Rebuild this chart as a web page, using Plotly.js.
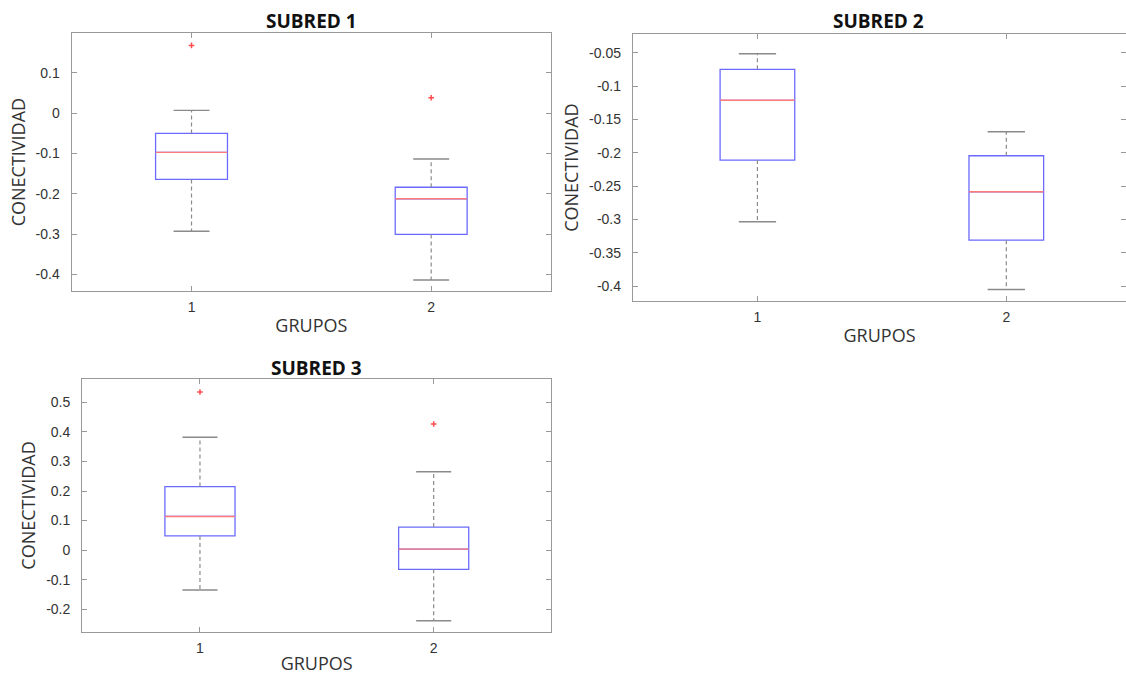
<!DOCTYPE html>
<html>
<head>
<meta charset="utf-8">
<script src="https://cdn.plot.ly/plotly-3.0.1.min.js"></script>
<style>html,body{margin:0;padding:0;background:#fff;}#chart{width:1126px;height:675px;}</style>
</head>
<body>
<div id="chart"></div>
<script>
// ---- data ----
const groups = [1, 2];
const groupLabels = ['1', '2'];

// SUBRED 1
const s1Lower  = [-0.293, -0.414];
const s1Q1     = [-0.1645, -0.301];
const s1Median = [-0.0975, -0.2125];
const s1Q3     = [-0.0504, -0.184];
const s1Upper  = [0.0067, -0.114];
const s1Outliers = [[0.168], [0.038]];
const s1TickVals = [-0.4, -0.3, -0.2, -0.1, 0, 0.1];
const s1TickText = ['-0.4', '-0.3', '-0.2', '-0.1', '0', '0.1'];

// SUBRED 2
const s2Lower  = [-0.3035, -0.405];
const s2Q1     = [-0.211, -0.331];
const s2Median = [-0.1214, -0.2585];
const s2Q3     = [-0.0749, -0.2045];
const s2Upper  = [-0.0515, -0.1685];
const s2Outliers = [[], []];
const s2TickVals = [-0.4, -0.35, -0.3, -0.25, -0.2, -0.15, -0.1, -0.05];
const s2TickText = ['-0.4', '-0.35', '-0.3', '-0.25', '-0.2', '-0.15', '-0.1', '-0.05'];

// SUBRED 3
const s3Lower  = [-0.135, -0.239];
const s3Q1     = [0.048, -0.065];
const s3Median = [0.114, 0.0034];
const s3Q3     = [0.215, 0.078];
const s3Upper  = [0.382, 0.265];
const s3Outliers = [[0.535], [0.427]];
const s3TickVals = [-0.2, -0.1, 0, 0.1, 0.2, 0.3, 0.4, 0.5];
const s3TickText = ['-0.2', '-0.1', '0', '0.1', '0.2', '0.3', '0.4', '0.5'];

const titles = ['SUBRED 1', 'SUBRED 2', 'SUBRED 3'];
const xTitle = 'GRUPOS';
const yTitle = 'CONECTIVIDAD';

// ---- styles ----
const BOX_W = 0.3;
const CAP_HALF = 0.075;
const BLUE = '#6a6aff';
const RED = '#ff7b7b';
const GRAY = '#8a8a8a';

function buildTraces(lower, q1, med, q3, upper, outliers, xa, ya) {
  const traces = [];
  traces.push({
    type: 'box', x: groups, q1: q1, median: med, q3: q3,
    lowerfence: q1, upperfence: q3, width: BOX_W, whiskerwidth: 0,
    boxpoints: false, fillcolor: 'rgba(0,0,0,0)',
    line: {color: BLUE, width: 1.3}, xaxis: xa, yaxis: ya, hoverinfo: 'skip'
  });
  const wx = [], wy = [];
  groups.forEach((g, i) => {
    wx.push(g, g, null, g, g, null);
    wy.push(q3[i], upper[i], null, q1[i], lower[i], null);
  });
  traces.push({type: 'scatter', mode: 'lines', x: wx, y: wy, xaxis: xa, yaxis: ya,
    line: {color: GRAY, width: 1.2, dash: '4px,3px'}, hoverinfo: 'skip'});
  const cx = [], cy = [];
  groups.forEach((g, i) => {
    cx.push(g - CAP_HALF, g + CAP_HALF, null, g - CAP_HALF, g + CAP_HALF, null);
    cy.push(upper[i], upper[i], null, lower[i], lower[i], null);
  });
  traces.push({type: 'scatter', mode: 'lines', x: cx, y: cy, xaxis: xa, yaxis: ya,
    line: {color: GRAY, width: 1.4}, hoverinfo: 'skip'});
  const mx = [], my = [];
  groups.forEach((g, i) => {
    mx.push(g - BOX_W / 2, g + BOX_W / 2, null);
    my.push(med[i], med[i], null);
  });
  traces.push({type: 'scatter', mode: 'lines', x: mx, y: my, xaxis: xa, yaxis: ya,
    line: {color: RED, width: 1.4}, hoverinfo: 'skip'});
  const ox = [], oy = [];
  groups.forEach((g, i) => { outliers[i].forEach(v => { ox.push(g); oy.push(v); }); });
  traces.push({type: 'scatter', mode: 'markers', x: ox, y: oy, xaxis: xa, yaxis: ya,
    marker: {symbol: 'cross-thin', size: 4, color: '#ff4d4d', line: {color: '#ff4d4d', width: 1.5}}, hoverinfo: 'skip'});
  return traces;
}

const data = [].concat(
  buildTraces(s1Lower, s1Q1, s1Median, s1Q3, s1Upper, s1Outliers, 'x', 'y'),
  buildTraces(s2Lower, s2Q1, s2Median, s2Q3, s2Upper, s2Outliers, 'x2', 'y2'),
  buildTraces(s3Lower, s3Q1, s3Median, s3Q3, s3Upper, s3Outliers, 'x3', 'y3')
);

const tickFont = {family: 'Liberation Sans, Arial, sans-serif', size: 14, color: '#333'};
const labFont = {family: 'Open Sans, sans-serif', size: 18, color: '#333'};
const titleFont = {family: 'Open Sans, sans-serif', size: 19, color: '#111'};

function xAxis(domain, range, anchor) {
  return {domain: domain, range: range, anchor: anchor, tickvals: groups, ticktext: groupLabels,
    ticks: 'inside', ticklen: 5, tickcolor: '#999', showline: true, linecolor: '#999', linewidth: 1.2,
    mirror: 'ticks', showgrid: false, zeroline: false, tickfont: tickFont, ticklabelstandoff: 3,
    title: {text: xTitle, font: labFont, standoff: 5}, fixedrange: true};
}
function yAxis(domain, range, anchor, tv, tt) {
  return {domain: domain, range: range, anchor: anchor, tickvals: tv, ticktext: tt,
    ticks: 'inside', ticklen: 5, tickcolor: '#999', showline: true, linecolor: '#999', linewidth: 1.2,
    mirror: 'ticks', showgrid: false, zeroline: false, tickfont: tickFont, ticklabelstandoff: 8,
    title: {text: yTitle, font: labFont, standoff: 5}, fixedrange: true};
}

const W = 1126, H = 675;
const layout = {
  width: W, height: H, margin: {l: 0, r: 0, t: 0, b: 0},
  paper_bgcolor: '#fff', plot_bgcolor: '#fff', showlegend: false,
  xaxis:  xAxis([71.7 / W, 551 / W], [0.5, 2.5], 'y'),
  yaxis:  yAxis([1 - 291 / H, 1 - 33.3 / H], [-0.4414, 0.198], 'x', s1TickVals, s1TickText),
  xaxis2: xAxis([633 / W, 1], [0.5, 2.481], 'y2'),
  yaxis2: yAxis([1 - 301.2 / H, 1 - 34 / H], [-0.4225, -0.022], 'x2', s2TickVals, s2TickText),
  xaxis3: xAxis([82.3 / W, 551 / W], [0.4965, 2.502], 'y3'),
  yaxis3: yAxis([1 - 631.7 / H, 1 - 379.3 / H], [-0.276, 0.578], 'x3', s3TickVals, s3TickText),
  annotations: [
    {text: '<b>' + titles[0] + '</b>', xref: 'paper', yref: 'paper', x: 311 / W, y: 1 - 21 / H,
     xanchor: 'center', yanchor: 'middle', showarrow: false, font: titleFont},
    {text: '<b>' + titles[1] + '</b>', xref: 'paper', yref: 'paper', x: 878 / W, y: 1 - 21 / H,
     xanchor: 'center', yanchor: 'middle', showarrow: false, font: titleFont},
    {text: '<b>' + titles[2] + '</b>', xref: 'paper', yref: 'paper', x: 316 / W, y: 1 - 368 / H,
     xanchor: 'center', yanchor: 'middle', showarrow: false, font: titleFont}
  ]
};

Plotly.newPlot('chart', data, layout, {displayModeBar: false, staticPlot: true});
</script>
</body>
</html>
